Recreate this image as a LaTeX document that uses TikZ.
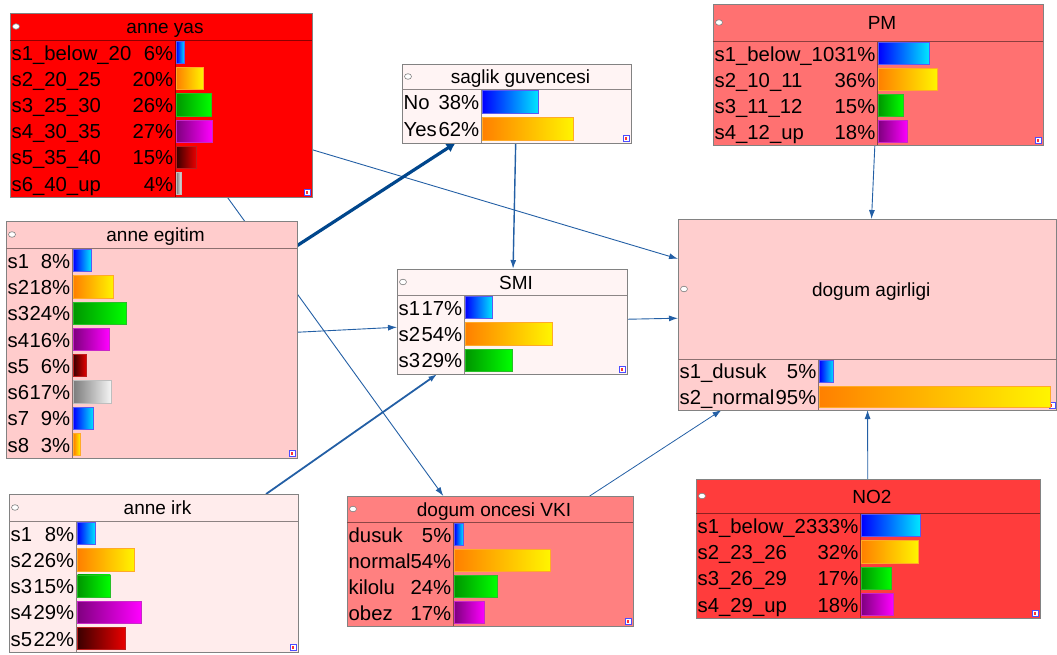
\documentclass[tikz,border=0pt]{standalone}
\usepackage{fontspec}
\setmainfont{Liberation Sans}
\usetikzlibrary{arrows.meta,backgrounds,calc}

\definecolor{yasfill}{RGB}{255,0,0}
\definecolor{egifill}{RGB}{255,204,204}
\definecolor{sagfill}{RGB}{255,244,244}
\definecolor{smifill}{RGB}{255,244,244}
\definecolor{pmfill}{RGB}{255,113,113}
\definecolor{agrfill}{RGB}{255,206,206}
\definecolor{irkfill}{RGB}{255,236,236}
\definecolor{vkifill}{RGB}{255,128,128}
\definecolor{notfill}{RGB}{255,60,60}
\definecolor{boxline}{RGB}{130,130,130}
\definecolor{linkc}{RGB}{35,95,165}
\definecolor{linkd}{RGB}{0,70,140}
\definecolor{gbA}{RGB}{0,0,255}\definecolor{gbB}{RGB}{0,230,255}\definecolor{gbD}{RGB}{90,90,240}
\definecolor{goA}{RGB}{255,128,0}\definecolor{goB}{RGB}{255,245,0}\definecolor{goD}{RGB}{255,170,40}
\definecolor{ggA}{RGB}{0,150,0}\definecolor{ggB}{RGB}{0,255,0}\definecolor{ggD}{RGB}{40,190,40}
\definecolor{gpA}{RGB}{128,0,128}\definecolor{gpB}{RGB}{255,0,255}\definecolor{gpD}{RGB}{200,40,200}
\definecolor{grA}{RGB}{60,0,0}\definecolor{grB}{RGB}{235,0,0}\definecolor{grD}{RGB}{190,30,30}
\definecolor{gyA}{RGB}{125,125,125}\definecolor{gyB}{RGB}{245,245,245}\definecolor{gyD}{RGB}{190,190,190}

\tikzset{
  bnbox/.style={draw=boxline, line width=1pt, inner sep=0pt, outer sep=0pt, rectangle},
  rowtext/.style={inner sep=0pt, font=\fontsize{20.3}{22}\selectfont, text=black},
  titletext/.style={inner sep=0pt, font=\fontsize{19}{22}\selectfont, text=black},
  bar/.style={line width=0.8pt},
  gb/.style={left color=gbA, right color=gbB, draw=gbD},
  go/.style={left color=goA, right color=goB, draw=goD},
  gg/.style={left color=ggA, right color=ggB, draw=ggD},
  gp/.style={left color=gpA, right color=gpB, draw=gpD},
  gr/.style={left color=grA, right color=grB, draw=grD},
  gy/.style={left color=gyA, right color=gyB, draw=gyD},
  lnk/.style={draw=linkc, line width=#1, -{Latex[length=9pt,width=6pt]}},
  lnkthick/.style={draw=linkd, line width=3.2pt, -{Latex[length=9pt,width=10pt]}},
}

% name, x1, y1, x2, y2, sepY, divX, fill, title
\newcommand{\bnnode}[9]{%
  \node[bnbox, fill=#8, minimum width={(#4-#2)*1pt}, minimum height={(#5-#3)*1pt}] (#1) at ({(#2+#4)/2},{(#3+#5)/2}) {};
  \draw[draw=#8!55!black, line width=1pt] (#2,#6) -- (#4,#6);
  \draw[draw=#8!55!black, line width=1pt] (#7,#6) -- (#7,#5);
  \node[titletext, anchor=base] (#1-t) at ({(#2+#4)/2+4},{(#3+#6)/2+7}) {#9};
  \draw[draw=gray, fill=white, line width=0.6pt] ({#2+6},{(#3+#6)/2}) ellipse [x radius=3.5, y radius=2.8];
  \draw[draw=blue!70, fill=white, line width=0.6pt] ({#4-7.5},{#5-7.5}) rectangle ({#4-1.5},{#5-1.5});
  \fill[red!80] ({#4-5.8},{#5-6}) rectangle ({#4-4.2},{#5-3});
}

% name, x1, divX, x2, y0, rowh, list
\newcommand{\bnrows}[7]{%
  \foreach \lab/\pc/\val/\gst [count=\i] in {#7}{%
    \pgfmathsetmacro\rtop{#5+(\i-1)*#6}
    \pgfmathsetmacro\rbase{\rtop+#6/2+7.2}
    \node[rowtext, anchor=base west] (#1-l\i) at ({#2+1.5},{\rbase}) {\lab};
    \node[rowtext, anchor=base east] (#1-p\i) at ({#3-1.5},{\rbase}) {\pc};
    \path[bar,\gst] ({#3+1.5},{\rtop+1.5}) rectangle ({#3+1.5+\val*(#4-#3-3)},{\rtop+#6-2.5});
  }%
}

\begin{document}
\begin{tikzpicture}[x=1pt,y=-1pt]
\useasboundingbox (0,0) rectangle (1057,654);

% ---- boxes
\bnnode{yas}{10}{13}{312}{197}{40}{175}{yasfill}{anne yas}
\bnnode{egi}{6}{221}{297}{458}{248}{72}{egifill}{anne egitim}
\bnnode{sag}{402}{64}{631}{143}{89}{481}{sagfill}{saglik guvencesi}
\bnnode{smi}{397}{269}{627}{374}{295}{464}{smifill}{SMI}
\bnnode{pm}{713}{4}{1043}{145}{41}{877}{pmfill}{PM}
\bnnode{agr}{678}{219}{1056.5}{410}{359}{818}{agrfill}{dogum agirligi}
\bnnode{irk}{9}{494}{298}{652}{521}{76}{irkfill}{anne irk}
\bnnode{vki}{347}{496}{633}{626}{522}{453}{vkifill}{dogum oncesi VKI}
\bnnode{not}{696}{479}{1040}{618}{513}{860}{notfill}{NO2}

% ---- states
\bnrows{yas}{10}{175}{312}{40}{26.17}{s1\_below\_20/6\%/0.06/gb, s2\_20\_25/20\%/0.20/go, s3\_25\_30/26\%/0.26/gg, s4\_30\_35/27\%/0.27/gp, s5\_35\_40/15\%/0.15/gr, s6\_40\_up/4\%/0.04/gy}
\bnrows{egi}{6}{72}{297}{248}{26.25}{s1/8\%/0.08/gb, s2/18\%/0.18/go, s3/24\%/0.24/gg, s4/16\%/0.16/gp, s5/6\%/0.06/gr, s6/17\%/0.17/gy, s7/9\%/0.09/gb, s8/3\%/0.03/go}
\bnrows{sag}{402}{481}{631}{89}{27}{No/38\%/0.38/gb, Yes/62\%/0.62/go}
\bnrows{smi}{397}{464}{627}{295}{26.3}{s1/17\%/0.17/gb, s2/54\%/0.54/go, s3/29\%/0.29/gg}
\bnrows{pm}{713}{877}{1043}{41}{26}{s1\_below\_10/31\%/0.31/gb, s2\_10\_11/36\%/0.36/go, s3\_11\_12/15\%/0.15/gg, s4\_12\_up/18\%/0.18/gp}
\bnrows{agr}{678}{818}{1056.5}{359}{25.5}{s1\_dusuk/5\%/0.06/gb, s2\_normal/95\%/0.98/go}
\bnrows{irk}{9}{76}{298}{521}{26.2}{s1/8\%/0.08/gb, s2/26\%/0.26/go, s3/15\%/0.15/gg, s4/29\%/0.29/gp, s5/22\%/0.22/gr}
\bnrows{vki}{347}{453}{633}{522}{26}{dusuk/5\%/0.05/gb, normal/54\%/0.54/go, kilolu/24\%/0.24/gg, obez/17\%/0.17/gp}
\bnrows{not}{696}{860}{1040}{513}{26.25}{s1\_below\_23/33\%/0.33/gb, s2\_23\_26/32\%/0.32/go, s3\_26\_29/17\%/0.17/gg, s4\_29\_up/18\%/0.18/gp}

% ---- links
\begin{pgfonlayer}{background}
  \draw[lnk=0.9pt] (yas) -- (agr);
  \draw[lnk=0.9pt] (yas) -- (vki);
  \draw[lnkthick] (egi) -- (sag);
  \draw[lnk=0.9pt] (egi) -- (smi);
  \draw[lnk=1.8pt] (irk) -- (smi);
  \draw[lnk=1.4pt] (sag) -- (smi);
  \draw[lnk=0.9pt] (smi) -- (agr);
  \draw[lnk=0.8pt] (vki) -- (agr);
  \draw[lnk=0.9pt] (pm) -- (agr);
  \draw[lnk=0.9pt] (not) -- (agr);
\end{pgfonlayer}
\end{tikzpicture}
\end{document}
